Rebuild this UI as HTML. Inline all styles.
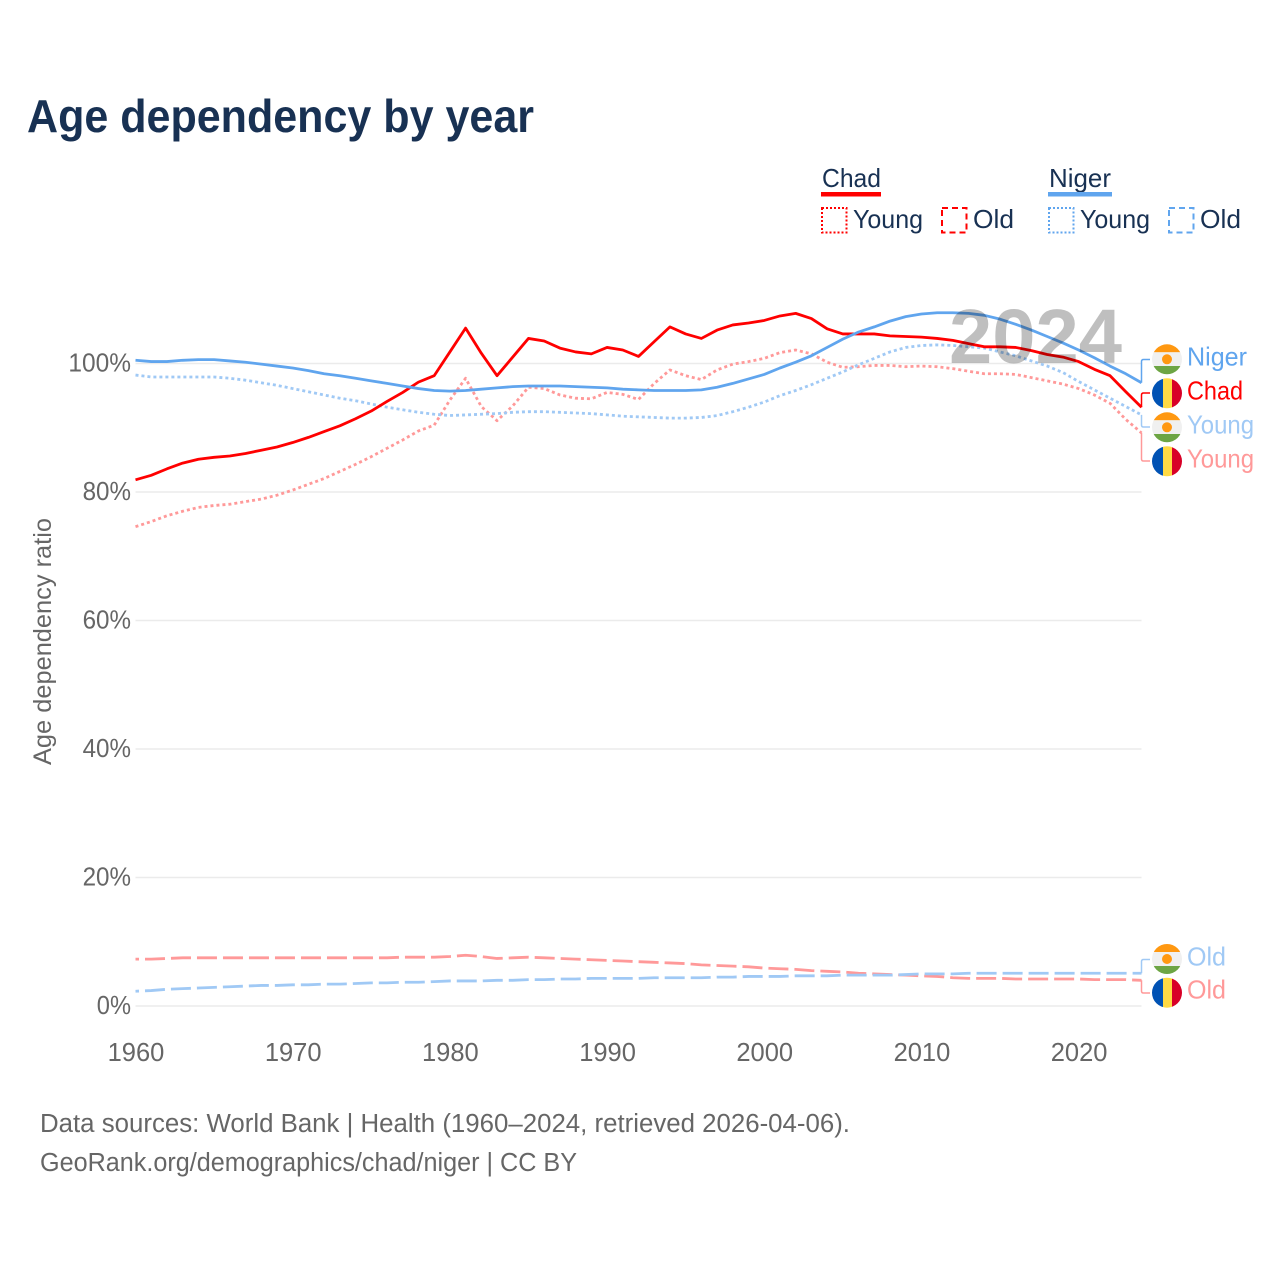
<!DOCTYPE html>
<html lang="en">
<head>
<meta charset="utf-8">
<title>Age dependency by year</title>
<style>
html,body{margin:0;padding:0;background:#fff;width:1280px;height:1280px;overflow:hidden}
svg{display:block}
text{font-family:"Liberation Sans",sans-serif}
</style>
</head>
<body>
<svg id="chart" xmlns="http://www.w3.org/2000/svg" width="1280" height="1280" viewBox="0 0 1280 1280">
  <defs>
    <clipPath id="fc1"><circle cx="1167" cy="359.3" r="15"/></clipPath>
    <clipPath id="fc2"><circle cx="1167" cy="393.3" r="15"/></clipPath>
    <clipPath id="fc3"><circle cx="1167" cy="427.3" r="15"/></clipPath>
    <clipPath id="fc4"><circle cx="1167" cy="461.3" r="15"/></clipPath>
    <clipPath id="fc5"><circle cx="1167" cy="959" r="15"/></clipPath>
    <clipPath id="fc6"><circle cx="1167" cy="992.7" r="15"/></clipPath>
  </defs>

  <text x="27" y="132" font-size="46" font-weight="700" fill="#183153" textLength="507" lengthAdjust="spacingAndGlyphs">Age dependency by year</text>

  <g>
    <text x="822" y="187" font-size="26" fill="#183153" textLength="59" lengthAdjust="spacingAndGlyphs">Chad</text>
    <rect x="821" y="192" width="60" height="4.5" fill="#ff0000"/>
    <rect x="822" y="208" width="24.5" height="24.5" fill="none" stroke="#ff0000" stroke-width="2" stroke-dasharray="2 2"/>
    <text x="853" y="228" font-size="26" fill="#183153" textLength="70" lengthAdjust="spacingAndGlyphs">Young</text>
    <rect x="942" y="208" width="24.5" height="24.5" fill="none" stroke="#ff0000" stroke-width="2" stroke-dasharray="6 4"/>
    <text x="973" y="228" font-size="26" fill="#183153" textLength="41" lengthAdjust="spacingAndGlyphs">Old</text>
    <text x="1049" y="187" font-size="26" fill="#183153" textLength="62" lengthAdjust="spacingAndGlyphs">Niger</text>
    <rect x="1048" y="192" width="64" height="4.5" fill="#60a5ee"/>
    <rect x="1049" y="208" width="24.5" height="24.5" fill="none" stroke="#60a5ee" stroke-width="2" stroke-dasharray="2 2"/>
    <text x="1080" y="228" font-size="26" fill="#183153" textLength="70" lengthAdjust="spacingAndGlyphs">Young</text>
    <rect x="1169" y="208" width="24.5" height="24.5" fill="none" stroke="#60a5ee" stroke-width="2" stroke-dasharray="6 4"/>
    <text x="1200" y="228" font-size="26" fill="#183153" textLength="41" lengthAdjust="spacingAndGlyphs">Old</text>
  </g>

  <g id="grid"></g>
  <g id="yticks"></g>
  <g id="xticks"></g>
  <text transform="translate(51,641.5) rotate(-90)" text-anchor="middle" font-size="25" fill="#666666" textLength="247" lengthAdjust="spacingAndGlyphs">Age dependency ratio</text>

  <g id="series"></g>

  <text x="949" y="363" font-size="77" font-weight="700" fill="#000000" fill-opacity="0.25" textLength="173" lengthAdjust="spacingAndGlyphs">2024</text>

  <g clip-path="url(#fc1)">
    <rect x="1152" y="344" width="30" height="8.3" fill="#ff9811"/><rect x="1152" y="352.3" width="30" height="13.7" fill="#f0f0f0"/><rect x="1152" y="366" width="30" height="9" fill="#6da544"/><circle cx="1167" cy="359.3" r="5" fill="#ff9811"/>
  </g>
  <g clip-path="url(#fc2)">
    <rect x="1152" y="378" width="11" height="31" fill="#0052b4"/><rect x="1163" y="378" width="9" height="31" fill="#ffda44"/><rect x="1172" y="378" width="10" height="31" fill="#d80027"/>
  </g>
  <g clip-path="url(#fc3)">
    <rect x="1152" y="412" width="30" height="8.3" fill="#ff9811"/><rect x="1152" y="420.3" width="30" height="13.7" fill="#f0f0f0"/><rect x="1152" y="434" width="30" height="9" fill="#6da544"/><circle cx="1167" cy="427.3" r="5" fill="#ff9811"/>
  </g>
  <g clip-path="url(#fc4)">
    <rect x="1152" y="446" width="11" height="31" fill="#0052b4"/><rect x="1163" y="446" width="9" height="31" fill="#ffda44"/><rect x="1172" y="446" width="10" height="31" fill="#d80027"/>
  </g>
  <g clip-path="url(#fc5)">
    <rect x="1152" y="944" width="30" height="8" fill="#ff9811"/><rect x="1152" y="952" width="30" height="14" fill="#f0f0f0"/><rect x="1152" y="966" width="30" height="9" fill="#6da544"/><circle cx="1167" cy="959" r="5" fill="#ff9811"/>
  </g>
  <g clip-path="url(#fc6)">
    <rect x="1152" y="977" width="11" height="31" fill="#0052b4"/><rect x="1163" y="977" width="9" height="31" fill="#ffda44"/><rect x="1172" y="977" width="10" height="31" fill="#d80027"/>
  </g>

  <text x="1187" y="365.5" font-size="26" fill="#60a5ee" textLength="60" lengthAdjust="spacingAndGlyphs">Niger</text>
  <text x="1187" y="399.5" font-size="26" fill="#ff0000" textLength="56" lengthAdjust="spacingAndGlyphs">Chad</text>
  <text x="1187" y="433.5" font-size="26" fill="#a0c9f5" textLength="67" lengthAdjust="spacingAndGlyphs">Young</text>
  <text x="1187" y="467.5" font-size="26" fill="#ff9999" textLength="67" lengthAdjust="spacingAndGlyphs">Young</text>
  <text x="1187" y="965.5" font-size="26" fill="#a0c9f5" textLength="39" lengthAdjust="spacingAndGlyphs">Old</text>
  <text x="1187" y="998.5" font-size="26" fill="#ff9999" textLength="39" lengthAdjust="spacingAndGlyphs">Old</text>

  <text x="40" y="1132" font-size="25.5" fill="#666666" textLength="810" lengthAdjust="spacingAndGlyphs">Data sources: World Bank | Health (1960–2024, retrieved 2026-04-06).</text>
  <text x="40" y="1171" font-size="25.5" fill="#666666" textLength="537" lengthAdjust="spacingAndGlyphs">GeoRank.org/demographics/chad/niger | CC BY</text>
</svg>
<script>
const years = [];
const firstYear = 1960;
const lastYear = 2024;
for (let yr = firstYear; yr <= lastYear; yr++) years.push(yr);
const xTickLabels = [1960, 1970, 1980, 1990, 2000, 2010, 2020];
const yTickValues = [0, 20, 40, 60, 80, 100];

const chadTotal = [
  81.9,82.6,83.6,84.5,85.1,85.4,85.6,86.0,86.5,87.0,
  87.7,88.5,89.4,90.3,91.4,92.6,94.1,95.5,97.1,98.1,
  101.8,105.5,101.6,98.1,101.0,103.9,103.5,102.4,101.8,101.5,
  102.5,102.1,101.1,103.4,105.7,104.6,103.9,105.2,106.0,106.3,
  106.7,107.4,107.8,107.0,105.4,104.6,104.6,104.6,104.3,104.2,
  104.1,103.9,103.6,103.1,102.6,102.6,102.5,102.0,101.4,101.0,
  100.3,99.1,98.1,95.6,93.2
];
const nigerTotal = [
  100.5,100.3,100.3,100.5,100.6,100.6,100.4,100.2,99.9,99.6,
  99.3,98.9,98.4,98.1,97.7,97.3,96.9,96.5,96.1,95.8,
  95.7,95.8,96.0,96.2,96.4,96.5,96.5,96.5,96.4,96.3,
  96.2,96.0,95.9,95.8,95.8,95.8,95.9,96.3,96.9,97.6,
  98.3,99.3,100.2,101.2,102.5,103.8,104.9,105.7,106.6,107.3,
  107.7,107.9,107.9,107.8,107.5,106.9,106.1,105.2,104.2,103.2,
  102.1,100.9,99.6,98.4,97.0
];
const chadYoung = [
  74.6,75.4,76.3,77.0,77.6,77.9,78.1,78.5,78.9,79.5,
  80.3,81.2,82.1,83.2,84.3,85.5,86.8,88.1,89.5,90.4,
  94.3,97.7,93.3,91.1,93.4,96.3,96.1,95.1,94.6,94.5,
  95.5,95.2,94.4,96.9,99.0,98.1,97.5,99.0,99.9,100.3,
  100.8,101.7,102.1,101.5,100.2,99.4,99.5,99.7,99.7,99.5,
  99.6,99.5,99.2,98.8,98.4,98.4,98.3,97.8,97.3,96.8,
  96.1,95.1,93.8,91.3,89.2
];
const nigerYoung = [
  98.2,97.9,97.9,97.9,97.9,97.9,97.7,97.4,97.0,96.6,
  96.1,95.6,95.1,94.6,94.2,93.7,93.2,92.8,92.4,92.1,
  91.9,92.0,92.1,92.2,92.4,92.5,92.5,92.4,92.3,92.2,
  92.0,91.8,91.7,91.6,91.5,91.5,91.6,91.9,92.5,93.2,
  94.0,95.0,95.8,96.7,97.7,98.7,99.8,100.8,101.8,102.5,
  102.8,102.9,102.8,102.6,102.4,101.8,101.2,100.4,99.6,98.6,
  97.2,95.9,94.6,93.3,92.0
];
const chadOld = [
  7.3,7.3,7.4,7.5,7.5,7.5,7.5,7.5,7.5,7.5,
  7.5,7.5,7.5,7.5,7.5,7.5,7.5,7.6,7.6,7.6,
  7.7,7.9,7.7,7.4,7.5,7.6,7.5,7.4,7.3,7.2,
  7.1,7.0,6.9,6.8,6.7,6.6,6.4,6.3,6.2,6.1,
  5.9,5.8,5.7,5.5,5.4,5.3,5.1,5.0,4.9,4.8,
  4.7,4.6,4.4,4.3,4.3,4.3,4.2,4.2,4.2,4.2,
  4.2,4.1,4.1,4.1,4.0
];
const nigerOld = [
  2.3,2.4,2.6,2.7,2.8,2.9,3.0,3.1,3.2,3.2,
  3.3,3.3,3.4,3.4,3.5,3.6,3.6,3.7,3.7,3.8,
  3.9,3.9,3.9,4.0,4.0,4.1,4.1,4.2,4.2,4.3,
  4.3,4.3,4.3,4.4,4.4,4.4,4.4,4.5,4.5,4.6,
  4.6,4.6,4.7,4.7,4.7,4.8,4.8,4.8,4.8,4.9,
  5.0,5.0,5.0,5.1,5.1,5.1,5.1,5.1,5.1,5.1,
  5.1,5.1,5.1,5.1,5.1
];

const NS = 'http://www.w3.org/2000/svg';
const plotLeft = 135.5, plotRight = 1141.5, plotTop = 363.5, plotBottom = 1006;
const xScale = yr => plotLeft + (yr - firstYear) * (plotRight - plotLeft) / (lastYear - firstYear);
const yScale = v => plotBottom - v * (plotBottom - plotTop) / 100;

function make(tag, parent) {
  const el = document.createElementNS(NS, tag);
  parent.appendChild(el);
  return el;
}

const gridG = document.getElementById('grid');
const yG = document.getElementById('yticks');
const xG = document.getElementById('xticks');
const seriesG = document.getElementById('series');

yTickValues.forEach(v => {
  const ln = make('line', gridG);
  
  
  ln.setAttribute('x1', plotLeft);
  ln.setAttribute('x2', plotRight);
  ln.setAttribute('y1', yScale(v));
  ln.setAttribute('y2', yScale(v));
  ln.setAttribute('stroke', '#ebebeb');
  ln.setAttribute('stroke-width', '1.5');
  const t = make('text', yG);
  
  
  const label = v + '%';
  t.setAttribute('x', 131);
  t.setAttribute('y', yScale(v) + 8);
  t.setAttribute('text-anchor', 'end');
  t.setAttribute('font-size', '25.5');
  t.setAttribute('fill', '#666666');
  t.setAttribute('textLength', 14.2 * (label.length - 1) + 20);
  t.setAttribute('lengthAdjust', 'spacingAndGlyphs');
  t.textContent = label;
});

xTickLabels.forEach(yr => {
  const t = make('text', xG);
  
  
  t.setAttribute('x', xScale(yr) + 0.5);
  t.setAttribute('y', 1061);
  t.setAttribute('text-anchor', 'middle');
  t.setAttribute('font-size', '25.5');
  t.setAttribute('fill', '#666666');
  t.textContent = yr;
});

function drawLine(values, name, color, width, dash, offset) {
  const p = make('path', seriesG);
  
  
  p.setAttribute('d', values.map((v, i) => (i ? 'L' : 'M') + xScale(years[i]).toFixed(2) + ' ' + yScale(v).toFixed(2)).join(' '));
  p.setAttribute('fill', 'none');
  p.setAttribute('stroke', color);
  p.setAttribute('stroke-width', width);
  p.setAttribute('stroke-linejoin', 'round');
  if (dash) p.setAttribute('stroke-dasharray', dash);
  if (offset) p.setAttribute('stroke-dashoffset', offset);
}

function drawConnector(value, labelY, name, color) {
  const x = xScale(lastYear);
  const y = yScale(value);
  const dir = labelY < y ? 1 : -1;
  const c = make('path', seriesG);
  
  
  c.setAttribute('d', 'M' + x + ' ' + y + ' L' + x + ' ' + (labelY + dir * 2) + ' Q' + x + ' ' + labelY + ' ' + (x + 2) + ' ' + labelY + ' L1150 ' + labelY);
  c.setAttribute('fill', 'none');
  c.setAttribute('stroke', color);
  c.setAttribute('stroke-width', '1.5');
}

const lightRed = '#ff9999';
const lightBlue = '#a0c9f5';

drawLine(chadOld, 'line-chad-old', lightRed, 2.8, '20 6', 16.5);
drawLine(nigerOld, 'line-niger-old', lightBlue, 2.8, '20 6', 16.5);
drawLine(chadYoung, 'line-chad-young', lightRed, 2.8, '3 3', 0);
drawLine(nigerYoung, 'line-niger-young', lightBlue, 2.8, '3 3', 0);
drawLine(chadTotal, 'line-chad-total', '#ff0000', 2.8, '', 0);
drawLine(nigerTotal, 'line-niger-total', '#60a5ee', 2.8, '', 0);

drawConnector(nigerTotal[nigerTotal.length - 1], 359.5, 'connector-niger-total', '#60a5ee');
drawConnector(chadTotal[chadTotal.length - 1], 393, 'connector-chad-total', '#ff0000');
drawConnector(nigerYoung[nigerYoung.length - 1], 427, 'connector-niger-young', lightBlue);
drawConnector(chadYoung[chadYoung.length - 1], 461, 'connector-chad-young', lightRed);
drawConnector(nigerOld[nigerOld.length - 1], 959.5, 'connector-niger-old', lightBlue);
drawConnector(chadOld[chadOld.length - 1], 993, 'connector-chad-old', lightRed);
</script>
</body>
</html>
